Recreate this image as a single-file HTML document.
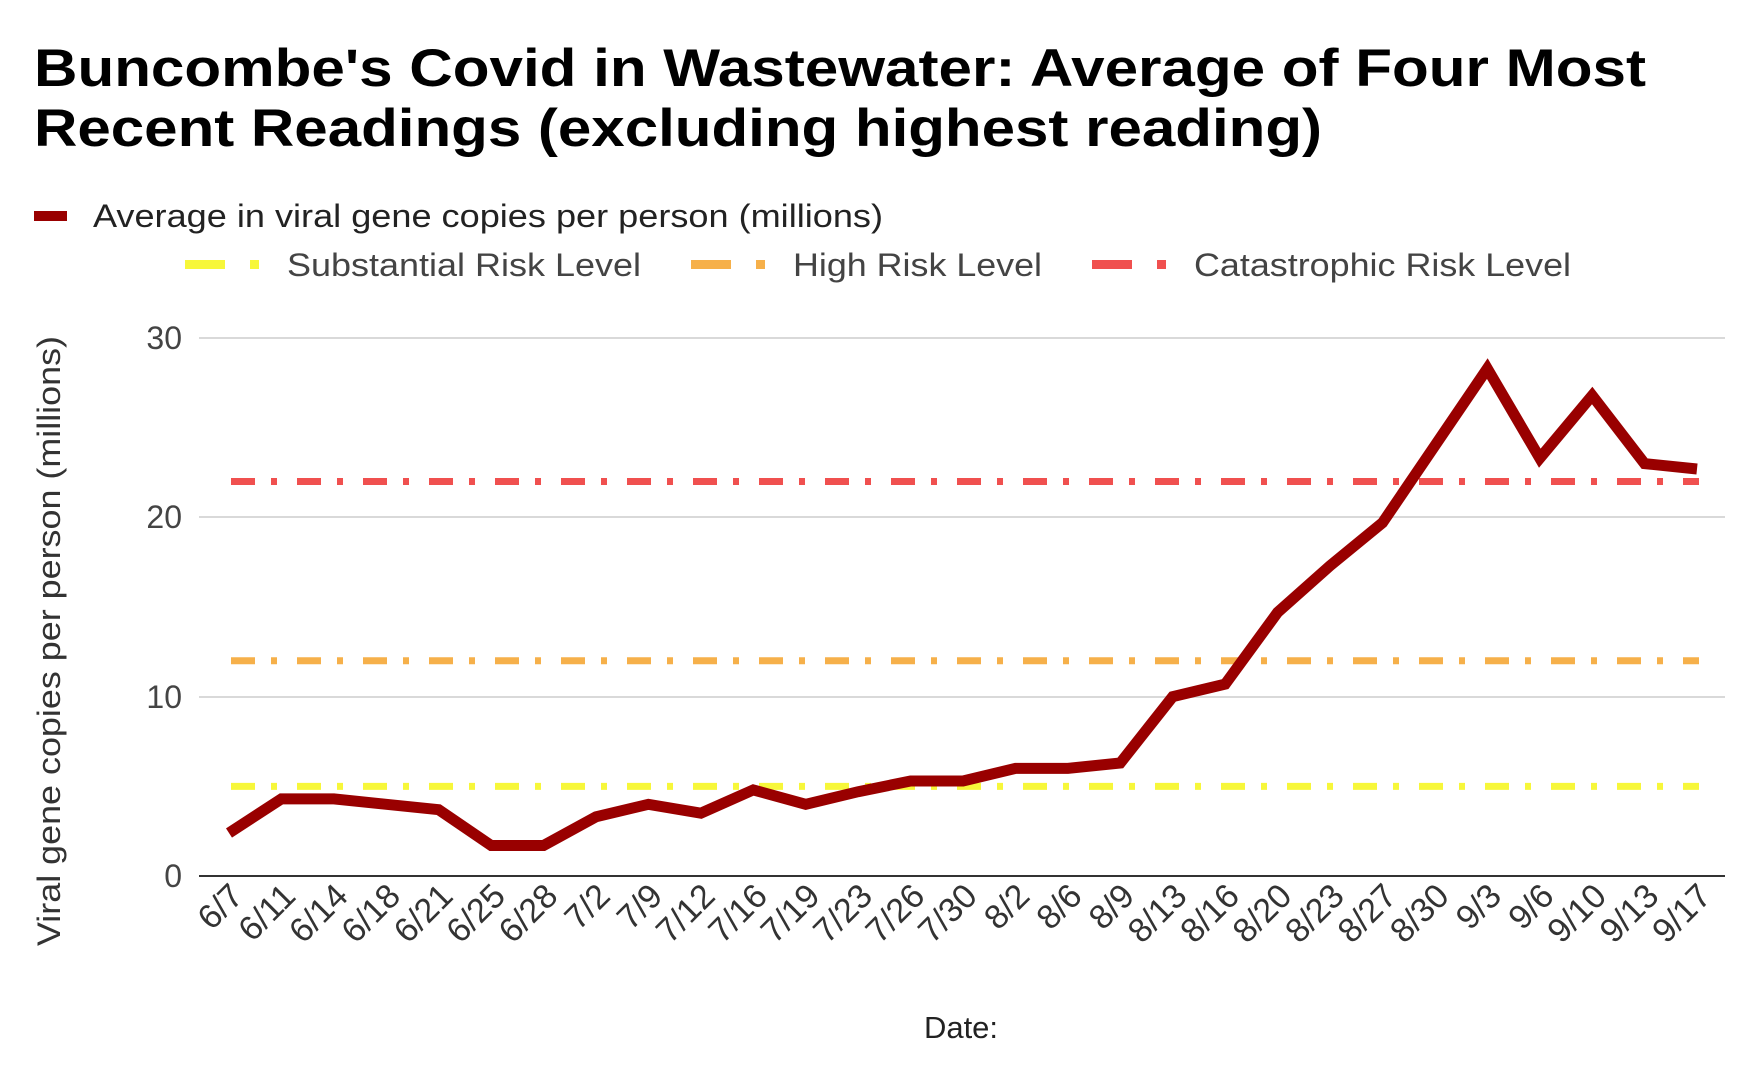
<!DOCTYPE html>
<html><head><meta charset="utf-8"><style>body{margin:0;background:#fff}</style></head><body>
<svg width="1747" height="1080" xmlns="http://www.w3.org/2000/svg" font-family="Liberation Sans, Arial, sans-serif">
<text x="34" y="86" font-size="53" font-weight="bold" fill="#000" textLength="1612" lengthAdjust="spacingAndGlyphs">Buncombe's Covid in Wastewater: Average of Four Most</text>
<text x="34" y="146" font-size="53" font-weight="bold" fill="#000" textLength="1288" lengthAdjust="spacingAndGlyphs">Recent Readings (excluding highest reading)</text>
<rect x="34" y="211" width="33" height="10" fill="#990000"/>
<text x="93" y="227" font-size="32" fill="#222" textLength="790" lengthAdjust="spacingAndGlyphs">Average in viral gene copies per person (millions)</text>
<g font-size="32" fill="#444">
<rect x="185" y="260" width="40" height="9" fill="#f7f73a"/><rect x="250" y="260" width="9" height="9" fill="#f7f73a"/>
<text x="287" y="276" textLength="354" lengthAdjust="spacingAndGlyphs">Substantial Risk Level</text>
<rect x="691" y="260" width="40" height="9" fill="#f6b04a"/><rect x="756" y="260" width="9" height="9" fill="#f6b04a"/>
<text x="793" y="276" textLength="249" lengthAdjust="spacingAndGlyphs">High Risk Level</text>
<rect x="1092" y="260" width="40" height="9" fill="#f0504f"/><rect x="1157" y="260" width="9" height="9" fill="#f0504f"/>
<text x="1194" y="276" textLength="377" lengthAdjust="spacingAndGlyphs">Catastrophic Risk Level</text>
</g>
<g stroke="#d9d9d9" stroke-width="2">
<line x1="199" x2="1725" y1="338" y2="338"/><line x1="199" x2="1725" y1="517" y2="517"/><line x1="199" x2="1725" y1="697" y2="697"/>
</g>
<line x1="199" x2="1725" y1="876" y2="876" stroke="#333" stroke-width="2"/>
<g font-size="32" fill="#444" text-anchor="end">
<text x="182" y="349">30</text><text x="182" y="528">20</text><text x="182" y="708">10</text><text x="182" y="887">0</text>
</g>
<text transform="translate(60,641) rotate(-90)" text-anchor="middle" font-size="32" fill="#333" textLength="610" lengthAdjust="spacingAndGlyphs">Viral gene copies per person (millions)</text>
<g stroke-width="7" stroke-dasharray="24 16 6 20" fill="none">
<line x1="231" x2="1699" y1="481.5" y2="481.5" stroke="#f0504f"/>
<line x1="231" x2="1699" y1="660.8" y2="660.8" stroke="#f6b04a"/>
<line x1="231" x2="1699" y1="786.4" y2="786.4" stroke="#f7f73a"/>
</g>
<polyline fill="none" stroke="#990000" stroke-width="11" stroke-linejoin="miter" points="229.0,833.0 281.4,798.9 333.9,798.9 386.3,804.3 438.7,809.7 491.2,845.5 543.6,845.5 596.0,816.8 648.4,804.3 700.9,813.2 753.3,789.9 805.7,804.3 858.2,791.7 910.6,781.0 963.0,781.0 1015.5,768.4 1067.9,768.4 1120.3,763.0 1172.7,696.7 1225.2,684.1 1277.6,612.4 1330.0,565.8 1382.5,522.8 1434.9,445.7 1487.3,368.6 1539.8,458.2 1592.2,395.5 1644.6,463.6 1697.0,469.0"/>
<g font-size="34" fill="#333" text-anchor="end">
<text transform="translate(245,898) rotate(-45)">6/7</text>
<text transform="translate(297.4,898) rotate(-45)">6/11</text>
<text transform="translate(349.9,898) rotate(-45)">6/14</text>
<text transform="translate(402.3,898) rotate(-45)">6/18</text>
<text transform="translate(454.7,898) rotate(-45)">6/21</text>
<text transform="translate(507.2,898) rotate(-45)">6/25</text>
<text transform="translate(559.6,898) rotate(-45)">6/28</text>
<text transform="translate(612.0,898) rotate(-45)">7/2</text>
<text transform="translate(664.4,898) rotate(-45)">7/9</text>
<text transform="translate(716.9,898) rotate(-45)">7/12</text>
<text transform="translate(769.3,898) rotate(-45)">7/16</text>
<text transform="translate(821.7,898) rotate(-45)">7/19</text>
<text transform="translate(874.2,898) rotate(-45)">7/23</text>
<text transform="translate(926.6,898) rotate(-45)">7/26</text>
<text transform="translate(979.0,898) rotate(-45)">7/30</text>
<text transform="translate(1031.5,898) rotate(-45)">8/2</text>
<text transform="translate(1083.9,898) rotate(-45)">8/6</text>
<text transform="translate(1136.3,898) rotate(-45)">8/9</text>
<text transform="translate(1188.7,898) rotate(-45)">8/13</text>
<text transform="translate(1241.2,898) rotate(-45)">8/16</text>
<text transform="translate(1293.6,898) rotate(-45)">8/20</text>
<text transform="translate(1346.0,898) rotate(-45)">8/23</text>
<text transform="translate(1398.5,898) rotate(-45)">8/27</text>
<text transform="translate(1450.9,898) rotate(-45)">8/30</text>
<text transform="translate(1503.3,898) rotate(-45)">9/3</text>
<text transform="translate(1555.8,898) rotate(-45)">9/6</text>
<text transform="translate(1608.2,898) rotate(-45)">9/10</text>
<text transform="translate(1660.6,898) rotate(-45)">9/13</text>
<text transform="translate(1713.0,898) rotate(-45)">9/17</text>
</g>
<text x="961" y="1038" font-size="31" fill="#222" text-anchor="middle">Date:</text>
</svg>
</body></html>
